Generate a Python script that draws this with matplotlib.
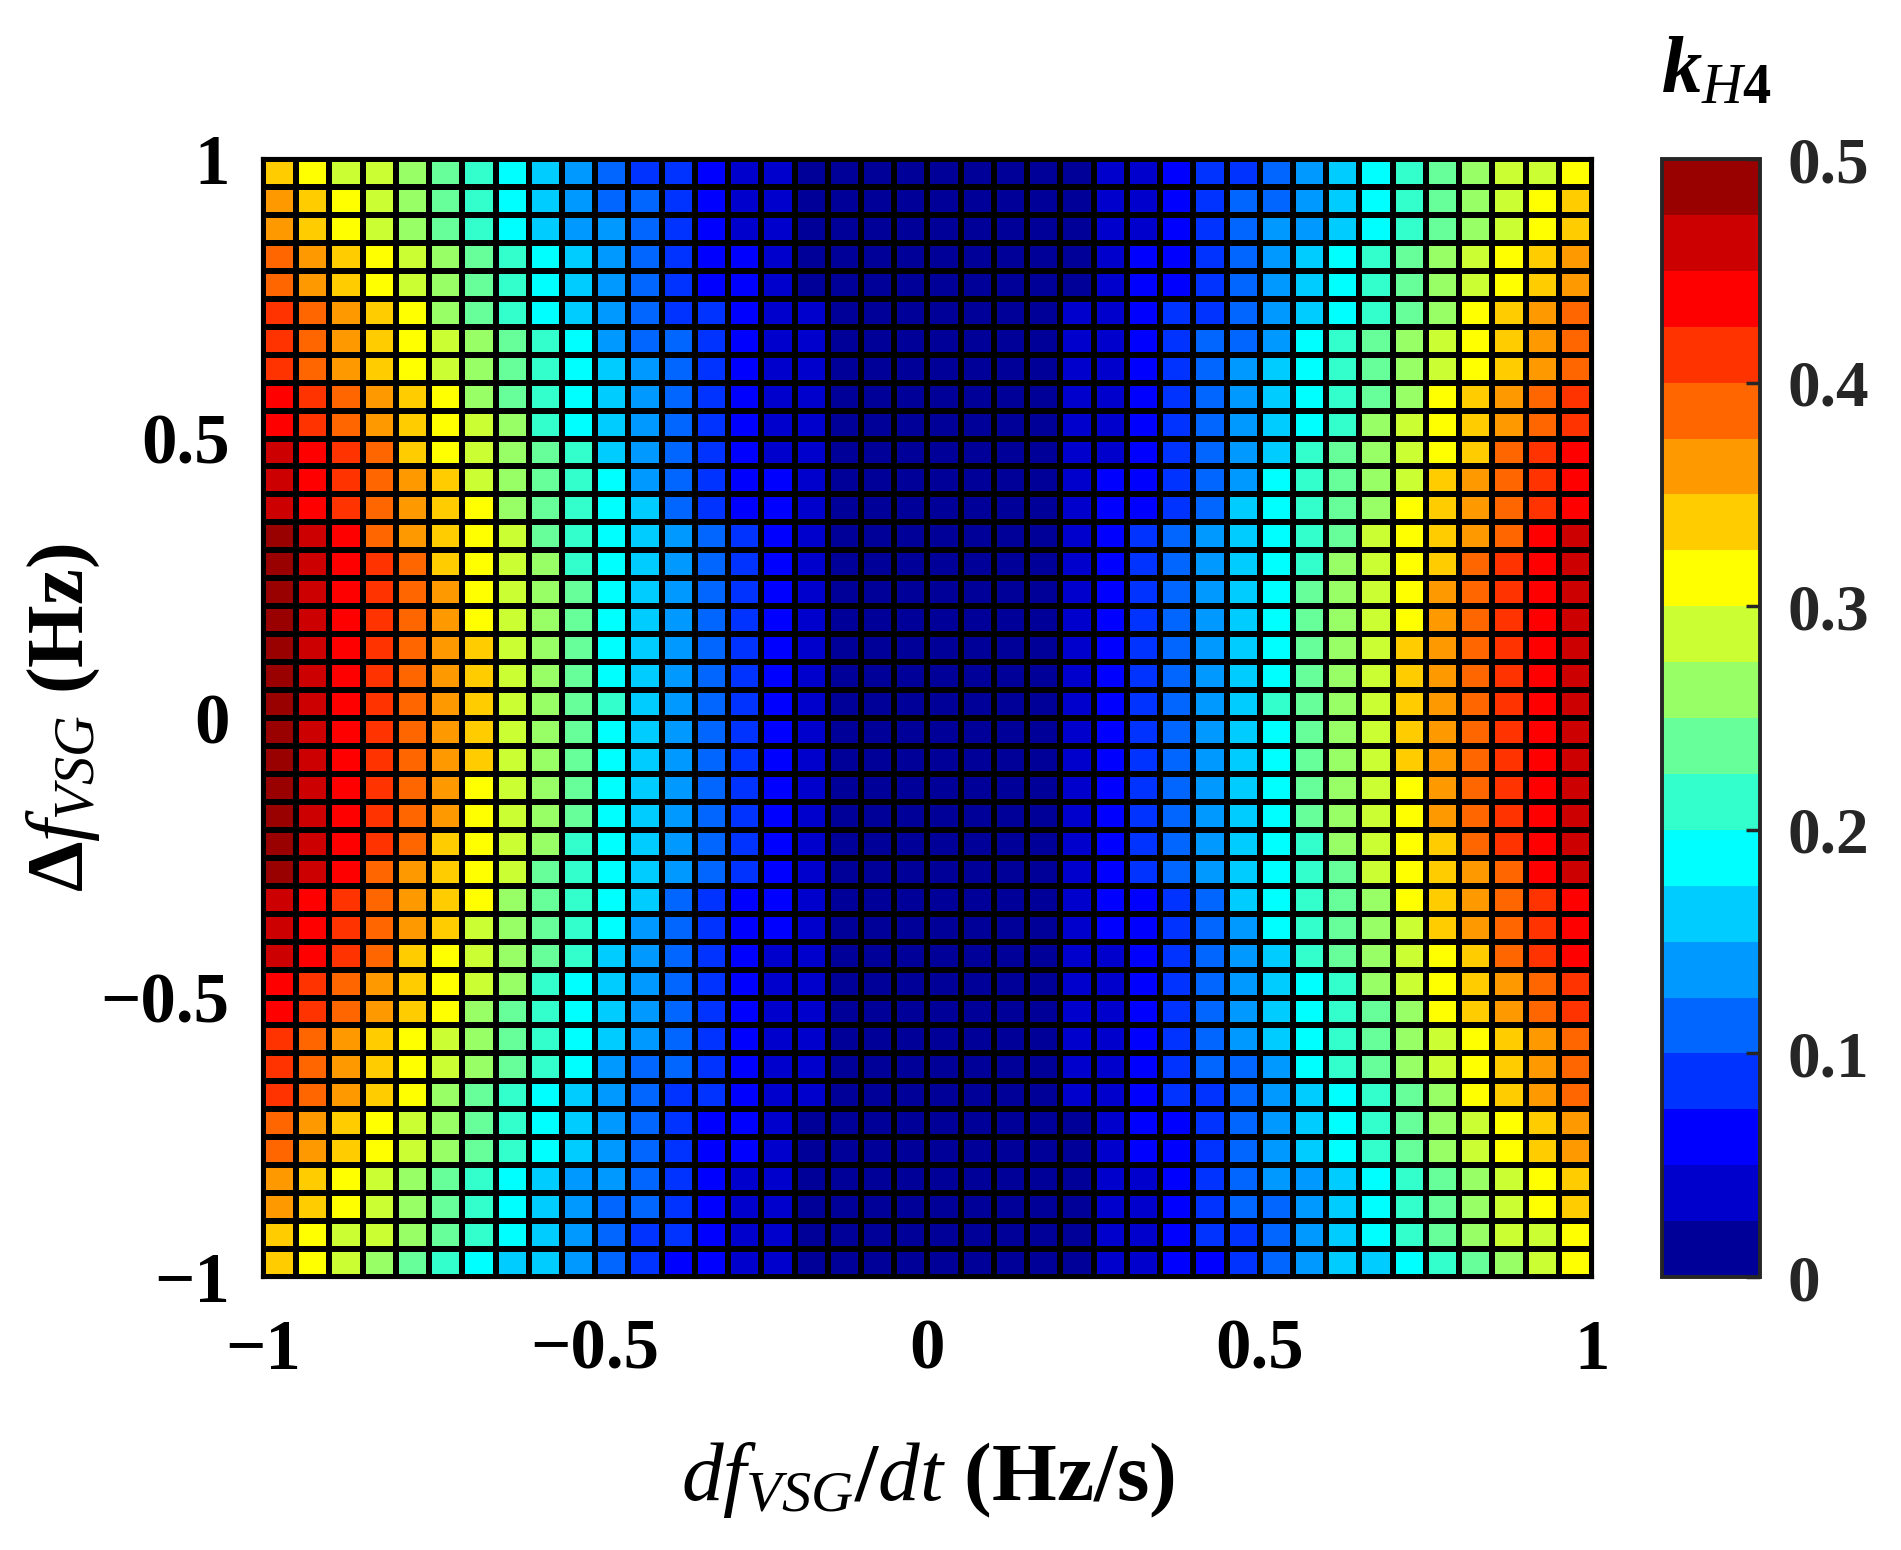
import numpy as np
import matplotlib
matplotlib.use("Agg")
import matplotlib.pyplot as plt
from matplotlib.colors import ListedColormap

# 20-step colour map of the k_H4 colorbar (0 .. 0.5, step 0.025)
level_colors = ["#000099", "#0000CC", "#0000FF", "#0033FF", "#0066FF",
                "#0099FF", "#00CCFF", "#00FFFF", "#33FFCC", "#66FF99",
                "#99FF66", "#CCFF33", "#FFFF00", "#FFCC00", "#FF9900",
                "#FF6600", "#FF3300", "#FF0000", "#CC0000", "#990000"]
level_step = 0.025

# grid edges of df/dt (x) and delta f (y)
df_dt = np.linspace(-1, 1, 41)
delta_f = np.linspace(-1, 1, 41)

# colour level of each cell (base-20 digit: 0..9, a..j), rows from top
# (delta f = 0.95) to bottom (delta f = -1), columns from df/dt = -1 to 0.95
k_h4_levels = [
    "dcbba987654332110000" "0000011233456789abbc",
    "edcba987654432110000" "0000011234456789abcd",
    "edcba987655432110000" "0000011234556789abcd",
    "fedcba98765432210000" "000001223456789abcde",
    "fedcba98765432210000" "000001223456789abcde",
    "gfedca98765433211000" "000011233456789acdef",
    "gfedcba9875443211000" "00001123445789abcdef",
    "gfedcba9876543211000" "00001123456789abcdef",
    "hgfedca9876543211000" "00001123456789acdefg",
    "hgfedcba876543211000" "0000112345678abcdefg",
    "ihgfdcba986543211000" "0000112345689abcdfgh",
    "ihgfedba987543221000" "0000122345789abdefgh",
    "ihgfedca987643221000" "0000122346789acdefgh",
    "jihfedcb987654321000" "0000123456789bcdefhi",
    "jihgfdcba87654321000" "000012345678abcdfghi",
    "jihgfecba97654321000" "000012345679abcefghi",
    "jihgfecba97654321000" "000012345679abcefghi",
    "jihgfedba97654321000" "000012345679abdefghi",
    "jihgfedba97654321000" "000012345679abdefghi",
    "jihgfedba98654321000" "000012345689abdefghi",
    "jihgfedba97654321000" "000012345679abdefghi",
    "jihgfedba97654321000" "000012345679abdefghi",
    "jihgfecba97654321000" "000012345679abcefghi",
    "jihgfecba97654321000" "000012345679abcefghi",
    "jihgfdcba87654321000" "000012345678abcdfghi",
    "jihfedcb987654321000" "0000123456789bcdefhi",
    "ihgfedca987643221000" "0000122346789acdefgh",
    "ihgfedba987543221000" "0000122345789abdefgh",
    "ihgfdcba986543211000" "0000112345689abcdfgh",
    "hgfedcba876543211000" "0000112345678abcdefg",
    "hgfedca9876543211000" "00001123456789acdefg",
    "gfedcba9876543211000" "00001123456789abcdef",
    "gfedcba9875443211000" "00001123445789abcdef",
    "gfedca98765433211000" "000011233456789acdef",
    "fedcba98765432210000" "000001223456789abcde",
    "fedcba98765432210000" "000001223456789abcde",
    "edcba987655432110000" "0000011234556789abcd",
    "edcba987654432110000" "0000011234456789abcd",
    "dcbba987654332110000" "0000011233456789abbc",
    "dcba9876654322110000" "00000112234566789abc",
]

tick_vals = [-1, -0.5, 0, 0.5, 1]
tick_labels = ["\u22121", "\u22120.5", "0", "0.5", "1"]
cbar_ticks = [0, 0.1, 0.2, 0.3, 0.4, 0.5]
cbar_labels = ["0", "0.1", "0.2", "0.3", "0.4", "0.5"]

plt.rcParams["font.family"] = "Liberation Serif"
plt.rcParams["font.weight"] = "bold"
plt.rcParams["mathtext.fontset"] = "custom"
plt.rcParams["mathtext.it"] = "Liberation Serif:style=italic:weight=normal"
plt.rcParams["mathtext.rm"] = "Liberation Serif:weight=bold"
plt.rcParams["mathtext.bf"] = "Liberation Serif:weight=bold"
try:
    plt.rcParams["mathtext.bfit"] = "Liberation Serif:style=italic:weight=bold"
    cbar_title = r"$\mathbfit{k}_{H\mathbf{4}}$"
except KeyError:
    cbar_title = r"$\mathbf{k}_{H\mathbf{4}}$"

# cell values: middle of each colour level, bottom row first
levels = np.array([[int(c, 20) for c in row] for row in k_h4_levels[::-1]])
k_h4 = (levels + 0.5) * level_step

cmap = ListedColormap(level_colors)

fig = plt.figure(figsize=(19.01, 15.5), dpi=100)
ax = fig.add_axes([0.1383, 0.1761, 0.6992, 0.7213])
mesh = ax.pcolormesh(df_dt, delta_f, k_h4, cmap=cmap, vmin=0, vmax=0.5,
                     edgecolors="black", linewidth=3.0)
ax.set_xlim(-1, 1)
ax.set_ylim(-1, 1)
ax.set_xticks(tick_vals)
ax.set_xticklabels(tick_labels)
ax.set_yticks(tick_vals)
ax.set_yticklabels(tick_labels)
ax.tick_params(direction="in", length=8, width=2, labelsize=51,
               colors="black", pad=24)
ax.tick_params(axis="x", pad=30)
for s in ax.spines.values():
    s.set_linewidth(3.0)

ax.set_xlabel(r"$df_{VSG}/dt$ (Hz/s)", fontsize=60, fontweight="bold",
              va="baseline")
ax.xaxis.set_label_coords(0.5, -0.1995)
ax.set_ylabel("\u0394" + r"$f_{VSG}$ (Hz)", fontsize=58, fontweight="bold",
              va="baseline")
ax.yaxis.set_label_coords(-0.1354, 0.5)

cax = fig.add_axes([0.8743, 0.1761, 0.0516, 0.7213])
cb = fig.colorbar(mesh, cax=cax, ticks=cbar_ticks)
cb.set_ticklabels(cbar_labels)
cb.outline.set_linewidth(2.8)
cb.outline.set_edgecolor("#262626")
cb.ax.tick_params(direction="in", length=10, width=2.5, labelsize=47,
                  colors="#262626", pad=20)

fig.text(0.9027, 0.94, cbar_title, fontsize=58, ha="center",
         va="baseline")

fig.savefig("out.png", dpi=100)
